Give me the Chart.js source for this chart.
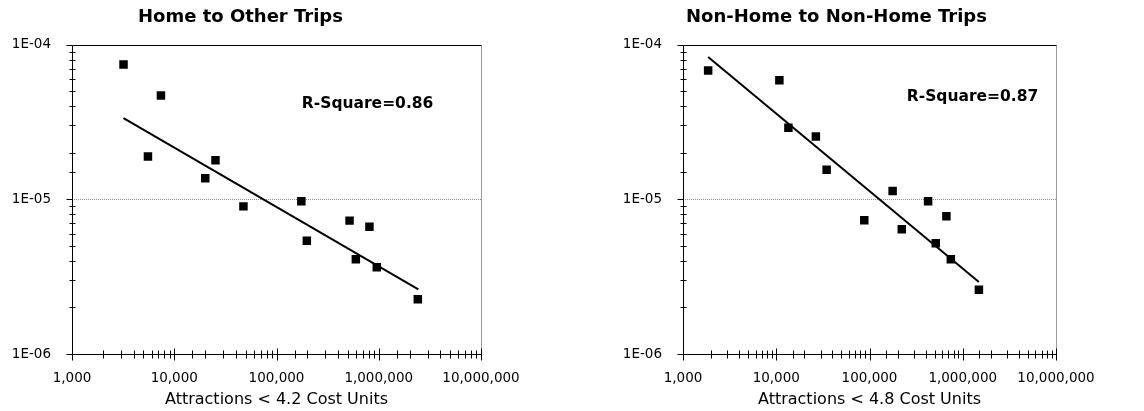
<!DOCTYPE html>
<html>
<head>
<meta charset="utf-8">
<script src="https://cdn.jsdelivr.net/npm/chart.js@4"></script>
<style>
    body { margin: 0; background: #fff; }
    .wrap { position: relative; width: 1144px; height: 411px; }
    .wrap canvas { position: absolute; top: 0; }
    #homeOtherChart { left: 0; }
    #nonHomeChart { left: 617px; }
</style>
</head>
<body>
<div class="wrap">
    <canvas id="homeOtherChart" width="566" height="411"></canvas>
    <canvas id="nonHomeChart" width="527" height="411"></canvas>
</div>
<script>
// Tick labels (log axes)
const xTickValues = [1000, 10000, 100000, 1000000, 10000000];
const xTickLabels = ['1,000', '10,000', '100,000', '1,000,000', '10,000,000'];
const yTickValues = [1e-6, 1e-5, 1e-4];
const yTickLabels = ['1E-06', '1E-05', '1E-04'];

// Home to Other Trips
const homeOtherX = [3190, 7410, 5530, 25300, 20100, 47500, 175000, 198000, 518000, 811000, 597000, 957000, 2410000];
const homeOtherY = [7.43e-5, 4.69e-5, 1.89e-5, 1.79e-5, 1.37e-5, 9.0e-6, 9.7e-6, 5.4e-6, 7.28e-6, 6.65e-6, 4.1e-6, 3.64e-6, 2.26e-6];
const homeOtherFitX = [3190, 2440000];
const homeOtherFitY = [3.35e-5, 2.62e-6];

// Non-Home to Non-Home Trips
const nonHomeX = [1860, 10800, 13500, 26600, 34700, 177000, 425000, 87900, 668000, 222000, 514000, 745000, 1490000];
const nonHomeY = [6.79e-5, 5.89e-5, 2.90e-5, 2.55e-5, 1.55e-5, 1.13e-5, 9.7e-6, 7.33e-6, 7.76e-6, 6.40e-6, 5.20e-6, 4.10e-6, 2.60e-6];
const nonHomeFitX = [1860, 1490000];
const nonHomeFitY = [8.32e-5, 2.92e-6];

const FONT = "'DejaVu Sans', 'Liberation Sans', Arial, sans-serif";

function isDecade(v) {
    const e = Math.log10(v);
    return Math.abs(e - Math.round(e)) < 1e-6;
}

function labelFor(v, values, labels) {
    if (!isDecade(v)) return '';
    const idx = values.findIndex(t => Math.abs(Math.log10(t) - Math.log10(v)) < 1e-6);
    return idx >= 0 ? labels[idx] : '';
}

function toPoints(xs, ys) {
    return xs.map((x, i) => ({ x: x, y: ys[i] }));
}

// Draws the frame, the tick marks crossing the axes, the 1E-05 dotted line and the R-square note
const frameTicksPlugin = {
    id: 'frameTicks',
    beforeDatasetsDraw(chart) {
        const { ctx, chartArea: a, scales: { y } } = chart;
        const py = Math.round(y.getPixelForValue(1e-5)) + 0.5;
        ctx.save();
        ctx.strokeStyle = '#8c8c8c';
        ctx.lineWidth = 1;
        ctx.setLineDash([1, 1]);
        ctx.beginPath();
        ctx.moveTo(a.left, py);
        ctx.lineTo(a.right, py);
        ctx.stroke();
        ctx.restore();
    },
    afterDraw(chart, args, opts) {
        const { ctx, chartArea: a, scales: { x, y } } = chart;
        const left = Math.round(a.left) + 0.5;
        const right = Math.round(a.right) + 0.5;
        const top = Math.round(a.top) + 0.5;
        const bottom = Math.round(a.bottom) + 0.5;

        ctx.save();
        ctx.lineWidth = 1;

        // right border (grey)
        ctx.strokeStyle = '#9a9a9a';
        ctx.beginPath();
        ctx.moveTo(right, top);
        ctx.lineTo(right, bottom);
        ctx.stroke();

        ctx.strokeStyle = '#000';
        ctx.beginPath();
        ctx.moveTo(left, top);
        ctx.lineTo(right, top);
        ctx.moveTo(left, top);
        ctx.lineTo(left, bottom);
        ctx.moveTo(left, bottom);
        ctx.lineTo(right, bottom);

        y.ticks.forEach(t => {
            const p = Math.round(y.getPixelForValue(t.value)) + 0.5;
            if (isDecade(t.value)) {
                ctx.moveTo(left - 6, p);
                ctx.lineTo(left, p);
            } else {
                ctx.moveTo(left - 3, p);
                ctx.lineTo(left + 3, p);
            }
        });
        x.ticks.forEach(t => {
            const p = Math.round(x.getPixelForValue(t.value)) + 0.5;
            if (isDecade(t.value)) {
                ctx.moveTo(p, bottom - 6);
                ctx.lineTo(p, bottom + 6);
            } else {
                ctx.moveTo(p, bottom - 4);
                ctx.lineTo(p, bottom + 4);
            }
        });
        ctx.stroke();

        // R-square note
        ctx.fillStyle = '#000';
        ctx.font = 'bold 15.5px ' + FONT;
        ctx.textAlign = 'left';
        ctx.textBaseline = 'middle';
        ctx.fillText(opts.text, x.getPixelForValue(opts.x), y.getPixelForValue(opts.y));
        ctx.restore();
    }
};

function buildChart(canvasId, cfg) {
    const ctx = document.getElementById(canvasId).getContext('2d');
    return new Chart(ctx, {
        type: 'scatter',
        data: {
            datasets: [{
                data: toPoints(cfg.xs, cfg.ys),
                pointStyle: 'rect',
                pointRadius: 6,
                pointHoverRadius: 6,
                backgroundColor: '#000',
                borderWidth: 0
            }, {
                data: toPoints(cfg.fitX, cfg.fitY),
                showLine: true,
                pointRadius: 0,
                borderColor: '#000',
                borderWidth: 2,
                fill: false
            }]
        },
        options: {
            responsive: false,
            animation: false,
            layout: {
                padding: { left: 0, right: cfg.padRight, top: 0, bottom: 0 }
            },
            plugins: {
                legend: { display: false },
                tooltip: { enabled: false },
                title: {
                    display: true,
                    text: cfg.title,
                    color: '#000',
                    font: { family: FONT, size: 18, weight: 'bold' },
                    padding: { top: 7, bottom: 16 }
                },
                frameTicks: cfg.note
            },
            scales: {
                x: {
                    type: 'logarithmic',
                    min: 1000,
                    max: 10000000,
                    grid: { display: false, drawTicks: false },
                    border: { display: false },
                    ticks: {
                        autoSkip: false,
                        maxRotation: 0,
                        padding: 16,
                        color: '#000',
                        font: { family: FONT, size: 13.5 },
                        callback: v => labelFor(v, xTickValues, xTickLabels)
                    },
                    title: {
                        display: true,
                        text: cfg.xTitle,
                        color: '#000',
                        font: { family: FONT, size: 16 },
                        padding: { top: 0, bottom: 2 }
                    },
                    afterFit: scale => { scale.height = 57; }
                },
                y: {
                    type: 'logarithmic',
                    min: 1e-6,
                    max: 1e-4,
                    grid: { display: false, drawTicks: false },
                    border: { display: false },
                    ticks: {
                        autoSkip: false,
                        padding: 21,
                        color: '#000',
                        font: { family: FONT, size: 13.5 },
                        callback: v => labelFor(v, yTickValues, yTickLabels)
                    },
                    afterFit: scale => { scale.width = cfg.axisWidth; }
                }
            }
        },
        plugins: [frameTicksPlugin]
    });
}

function initCharts() {
    buildChart('homeOtherChart', {
        title: 'Home to Other Trips',
        xTitle: 'Attractions < 4.2 Cost Units',
        xs: homeOtherX,
        ys: homeOtherY,
        fitX: homeOtherFitX,
        fitY: homeOtherFitY,
        axisWidth: 72,
        padRight: 85,
        note: { text: 'R-Square=0.86', x: 177000, y: 4.12e-5 }
    });

    buildChart('nonHomeChart', {
        title: 'Non-Home to Non-Home Trips',
        xTitle: 'Attractions < 4.8 Cost Units',
        xs: nonHomeX,
        ys: nonHomeY,
        fitX: nonHomeFitX,
        fitY: nonHomeFitY,
        axisWidth: 66,
        padRight: 88,
        note: { text: 'R-Square=0.87', x: 251000, y: 4.59e-5 }
    });
}

document.addEventListener('DOMContentLoaded', initCharts);
</script>
</body>
</html>
